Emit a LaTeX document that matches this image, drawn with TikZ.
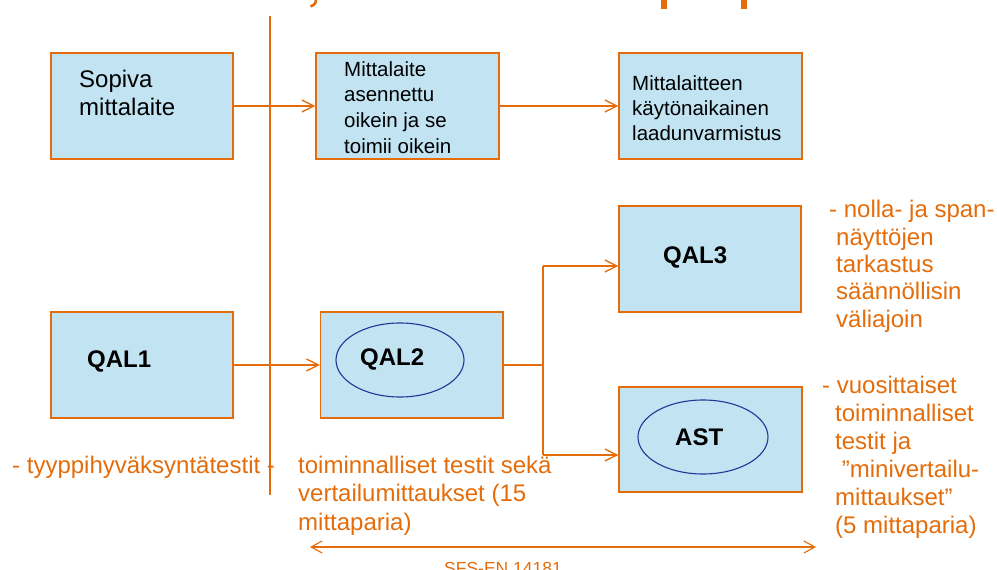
\documentclass[tikz,border=0pt]{standalone}
\usepackage{fontspec}
\setmainfont{Liberation Sans}
\usetikzlibrary{arrows.meta,shapes.geometric,calc}
\definecolor{orng}{RGB}{228,108,10}
\definecolor{lblue}{RGB}{193,227,242}
\definecolor{eblue}{RGB}{32,56,150}
\begin{document}
\begin{tikzpicture}[x=1pt,y=-1pt,
  box/.style={draw=orng, fill=lblue, line width=1.3pt, minimum width=182pt, minimum height=106pt, inner sep=0pt},
  oval/.style={draw=eblue, line width=1.1pt, ellipse, inner sep=0pt},
  btext/.style={anchor=base west, inner sep=0pt, align=left, font=\fontsize{20.5}{25.6}\selectfont},
  bigtext/.style={anchor=base west, inner sep=0pt, align=left, font=\fontsize{24}{28}\selectfont},
  boldtext/.style={anchor=base west, inner sep=0pt, font=\fontsize{24}{28}\selectfont\bfseries},
  otext/.style={anchor=base west, inner sep=0pt, align=left, text=orng, font=\fontsize{24}{28}\selectfont},
  conn/.style={draw=orng, line width=1.3pt},
  arr/.style={conn, -{Straight Barb[length=12pt,width=12pt,line width=1.3pt]}},
  dbl/.style={conn, line width=1.1pt, {Straight Barb[length=11pt,width=12pt,line width=1.1pt]}-{Straight Barb[length=11pt,width=12pt,line width=1.1pt]}}
]
\useasboundingbox (0,0) rectangle (997,570);

% clipped title fragments
\draw[orng, line width=2.6pt] (316,-1) .. controls (315.5,4) .. (310.5,6.5);
\fill[orng] (661,0) rectangle (667,8.5);
\fill[orng] (741,0) rectangle (747,8.5);

% boxes
\node[box] (b1) at (142,106) {};
\node[box, minimum width=183pt] (b2) at (407.5,106) {};
\node[box, minimum width=183pt] (b3) at (710.5,106) {};
\node[box] (q3) at (710,259) {};
\node[box] (q1) at (142,365) {};
\node[box, minimum width=182.5pt] (q2) at (411.75,365) {};
\node[box, minimum width=183pt, minimum height=105pt] (ast) at (710.5,439.5) {};

% ellipses
\node[oval, minimum width=128pt, minimum height=74pt] (e2) at (400,360) {};
\node[oval, minimum width=130pt, minimum height=74pt] (e3) at (703,437) {};

% box texts (anchor = baseline of last line)
\node[bigtext] (t1) at (79,115) {Sopiva\\mittalaite};
\node[btext] (t2) at (344,153) {Mittalaite\\asennettu\\oikein ja se\\toimii oikein};
\node[btext, font=\fontsize{20.5}{25}\selectfont] (t3) at (632,140) {Mittalaitteen\\käytönaikainen\\laadunvarmistus};
\node[boldtext] (tq1) at (87,367) {QAL1};
\node[boldtext] (tq2) at (360,365) {QAL2};
\node[boldtext] (tq3) at (663,263) {QAL3};
\node[boldtext] (tast) at (675,445) {AST};

% vertical line
\coordinate (vtop) at (270,16);
\coordinate (vbot) at (270,495);
\draw[conn, line width=2.4pt] (vtop) -- (vbot);

% connectors
\draw[arr] (b1) -- (b2);
\draw[arr] (b2) -- (b3);
\draw[arr] (q1) -- (q2);
\coordinate (j) at (543,365);
\coordinate (jt) at (543,266);
\coordinate (jb) at (543,455);
\draw[conn, line width=2pt] (q2.east) -- (j);
\draw[conn, line width=2pt] (jt) -- (jb);
\draw[arr] (jt) -- (jt -| q3.west);
\draw[arr] (jb) -- (jb -| ast.west);

% orange texts (anchor = baseline of last line)
\node[otext] (o1) at (12,473) {- tyyppihyväksyntätestit -};
\node[otext, font=\fontsize{24}{28.5}\selectfont] (o2) at (298,530) {toiminnalliset testit sekä\\vertailumittaukset (15\\mittaparia)};
\node[otext, font=\fontsize{24}{27.3}\selectfont] (o3) at (829,327) {- nolla- ja span-\\\hspace*{7pt}näyttöjen\\\hspace*{7pt}tarkastus\\\hspace*{7pt}säännöllisin\\\hspace*{7pt}väliajoin};
\node[otext] (o4) at (822,533) {- vuosittaiset\\\hspace*{13pt}toiminnalliset\\\hspace*{13pt}testit ja\\\hspace*{13pt} ”minivertailu-\\\hspace*{13pt}mittaukset”\\\hspace*{13pt}(5 mittaparia)};

% standard arrow
\coordinate (dl) at (310,547);
\coordinate (dr) at (816,547);
\draw[dbl] (dl) -- (dr);
\node[anchor=base, inner sep=0pt, text=orng, font=\fontsize{17.5}{20}\selectfont] (sfs) at (503,574) {SFS-EN 14181};
\end{tikzpicture}
\end{document}
